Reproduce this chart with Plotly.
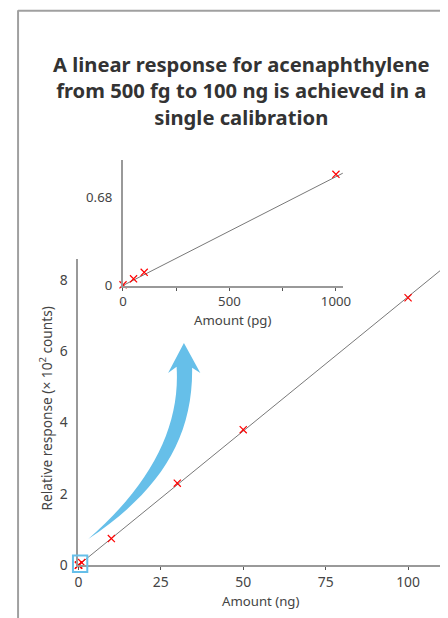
import plotly.graph_objects as go

W, H = 448, 620
OFF = 8      # default page margin of the html body
S = 0.984    # page-to-picture scale observed in the rendering

# ---- data ----
main_amount_ng = [0.0005, 0.05, 0.1, 1, 10, 30, 50, 100]
main_response = [0.0, 0.004, 0.008, 0.075, 0.75, 2.30, 3.80, 7.50]
main_fit_x = [0, 110]
main_fit_y = [0, 8.28]
main_xticks = [0, 25, 50, 75, 100]
main_yticks = [0, 2, 4, 6, 8]

inset_amount_pg = [0.5, 50, 100, 1000]
inset_response = [0.006, 0.052, 0.102, 0.855]
inset_fit_x = [0, 1037]
inset_fit_y = [0, 0.868]
inset_xticks = [0, 500, 1000]
inset_minor_step = 250
inset_yticks = [0, 0.68]
inset_yticktext = ["0", "0.68"]

title_lines = ["A linear response for acenaphthylene",
               "from 500 fg to 100 ng is achieved in a",
               "single calibration"]

FONT = "Noto Sans"
TXT = "#444444"
AX = "#999999"
RED = "#ff0000"
BLUE = "#66bfe9"


def fx(x):
    return (x / S - OFF) / W


def fy(y):
    return 1 - (y / S - OFF) / H


def px(x, y):
    return fx(x), fy(y)


def sz(v):
    return v / S


fig = go.Figure()

fig.add_trace(go.Scatter(x=main_fit_x, y=main_fit_y, mode="lines",
                         line=dict(color="#555555", width=0.8),
                         xaxis="x", yaxis="y", hoverinfo="skip", cliponaxis=False))
fig.add_trace(go.Scatter(x=main_amount_ng, y=main_response, mode="markers",
                         marker=dict(symbol="x-thin", size=sz(7), line=dict(color=RED, width=1.2)),
                         xaxis="x", yaxis="y", cliponaxis=False))
fig.add_trace(go.Scatter(x=inset_fit_x, y=inset_fit_y, mode="lines",
                         line=dict(color="#555555", width=0.8),
                         xaxis="x2", yaxis="y2", hoverinfo="skip", cliponaxis=False))
fig.add_trace(go.Scatter(x=inset_amount_pg, y=inset_response, mode="markers",
                         marker=dict(symbol="x-thin", size=sz(7), line=dict(color=RED, width=1.2)),
                         xaxis="x2", yaxis="y2", cliponaxis=False))

axis_common = dict(showgrid=False, zeroline=False, showline=True, linecolor=AX,
                   linewidth=2, fixedrange=True)
main_font = dict(family=FONT, size=13.9, color=TXT)
inset_font = dict(family=FONT, size=13.2, color=TXT)

fig.update_layout(
    width=W, height=H,
    margin=dict(l=0, r=0, t=0, b=0),
    paper_bgcolor="white", plot_bgcolor="rgba(0,0,0,0)",
    showlegend=False,
    font=dict(family=FONT, color=TXT),
    xaxis=dict(domain=[fx(75), fx(445)], range=[0, 111], anchor="y",
               tickvals=main_xticks, ticks="outside", ticklen=3, tickcolor="#555555",
               tickfont=main_font, ticklabelstandoff=0, **axis_common),
    yaxis=dict(domain=[fy(564.3), fy(258)], range=[0, 8.6], anchor="x",
               tickvals=main_yticks, ticks="", tickfont=main_font,
               ticklabelstandoff=6, **axis_common),
    xaxis2=dict(domain=[fx(120), fx(342.3)], range=[0, 1032], anchor="y2",
                tickvals=inset_xticks, ticks="outside", ticklen=3, tickcolor="#555555",
                minor=dict(tick0=0, dtick=inset_minor_step, ticks="outside", ticklen=3,
                           tickcolor="#555555", showgrid=False),
                tickfont=inset_font, ticklabelstandoff=0, **axis_common),
    yaxis2=dict(domain=[fy(285), fy(159.3)], range=[0, 0.968], anchor="x2",
                tickvals=inset_yticks, ticktext=inset_yticktext, ticks="",
                tickfont=inset_font, ticklabelstandoff=6, **axis_common),
)

# title
tx, ty = px(240, 48)
fig.add_annotation(text="<b>" + "<br>".join(title_lines) + "</b>", xref="paper", yref="paper",
                   x=tx, y=ty, xanchor="center", yanchor="top", showarrow=False,
                   align="center", font=dict(family=FONT, size=20.2, color="#333333"))

# axis titles
for text, (cx, cy), ang, fsz in [("Amount (ng)", (259, 600), 0, 13.2),
                                 ("Amount (pg)", (231, 319.5), 0, 13.2),
                                 ("Relative response (× 10<sup>2</sup> counts)", (42, 408), -90, 13.7)]:
    ax_, ay_ = px(cx, cy)
    fig.add_annotation(text=text, xref="paper", yref="paper", x=ax_, y=ay_,
                       xanchor="center", yanchor="middle", showarrow=False, textangle=ang,
                       font=dict(family=FONT, size=fsz, color=TXT))

# frame lines (top and left)
fig.add_shape(type="line", xref="paper", yref="paper",
              x0=fx(14), x1=fx(448), y0=fy(10.5), y1=fy(10.5),
              line=dict(color="#a0a0a0", width=2))
fig.add_shape(type="line", xref="paper", yref="paper",
              x0=fx(14), x1=fx(14), y0=fy(10), y1=fy(618),
              line=dict(color="#a0a0a0", width=2))

# blue square marking the origin region
fig.add_shape(type="rect", xref="paper", yref="paper",
              x0=fx(69.5), x1=fx(84), y0=fy(571), y1=fy(554.5),
              line=dict(color=BLUE, width=2), fillcolor="rgba(0,0,0,0)")

# curved arrow (decorative)
pts = [("M", [(85, 538)]),
       ("C", [(155, 492), (191, 440), (190, 367)]),
       ("L", [(198.3, 372.3)]),
       ("L", [(181.7, 342.3)]),
       ("L", [(165.7, 372.3)]),
       ("L", [(174.3, 366)]),
       ("C", [(178, 425), (150, 482), (85, 538)])]
path = ""
for cmd, ps in pts:
    path += cmd + " " + " ".join("%.5f,%.5f" % px(x, y) for x, y in ps) + " "
path += "Z"
fig.add_shape(type="path", xref="paper", yref="paper", path=path,
              fillcolor=BLUE, line=dict(width=0), layer="above")

fig.write_html("out.html", config={"displayModeBar": False})
